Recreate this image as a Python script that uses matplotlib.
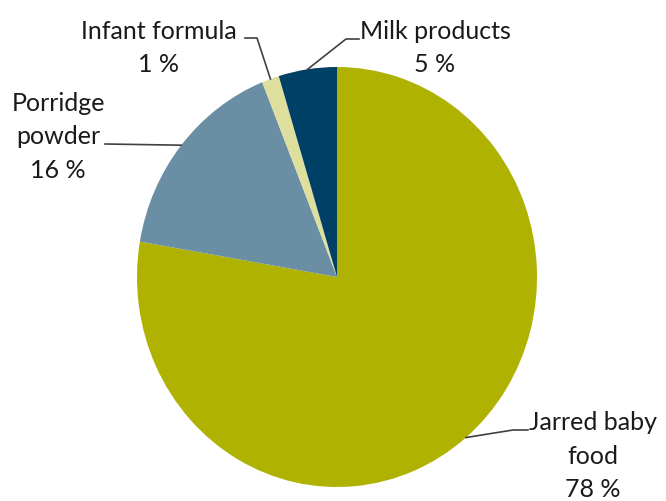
import matplotlib
matplotlib.use("Agg")
import matplotlib.pyplot as plt
import numpy as np

categories = ["Jarred baby\nfood", "Porridge\npowder", "Infant formula", "Milk products"]
values = [77.7, 16.2, 1.4, 4.7]
pct_labels = ["78 %", "16 %", "1 %", "5 %"]
colors = ["#afb200", "#6a8fa5", "#dfdf9d", "#003f66"]

W, H = 666, 501
cx, cy, rx, ry = 337, 277, 200, 210

fig = plt.figure(figsize=(W / 100, H / 100), dpi=100)
ax = fig.add_axes([0, 0, 1, 1])
wedges, _ = ax.pie(values, colors=colors, startangle=90, counterclock=False,
                   radius=1, wedgeprops=dict(linewidth=0))
ax.set_aspect('auto')
ax.set_xlim(-cx / rx, (W - cx) / rx)
ax.set_ylim(-(H - cy) / ry, cy / ry)
ax.axis('off')


def d(px, py):
    return ((px - cx) / rx, (cy - py) / ry)


def edge(w):
    a = np.deg2rad((w.theta1 + w.theta2) / 2)
    return (np.cos(a), np.sin(a))


font = dict(family="Lato", fontsize=18, color="#1a1a1a", linespacing=1.56)
lc = dict(color="#404040", lw=1.2)

# label text centers (pixel) and leader knee points
text_pos = [(593, 456), (58, 137), (159, 48), (435, 48)]
knees = [[(528, 430), (513, 430)], [(105, 144)], [(245, 38), (257, 38)], [(359, 39), (346, 39)]]

for i, w in enumerate(wedges):
    tx, ty = d(*text_pos[i])
    ax.text(tx, ty, categories[i] + "\n" + pct_labels[i], ha="center", va="center", **font)
    pts = [d(*k) for k in knees[i]] + [edge(w)]
    xs, ys = zip(*pts)
    ax.plot(xs, ys, **lc)

fig.savefig("out.png", dpi=100)
